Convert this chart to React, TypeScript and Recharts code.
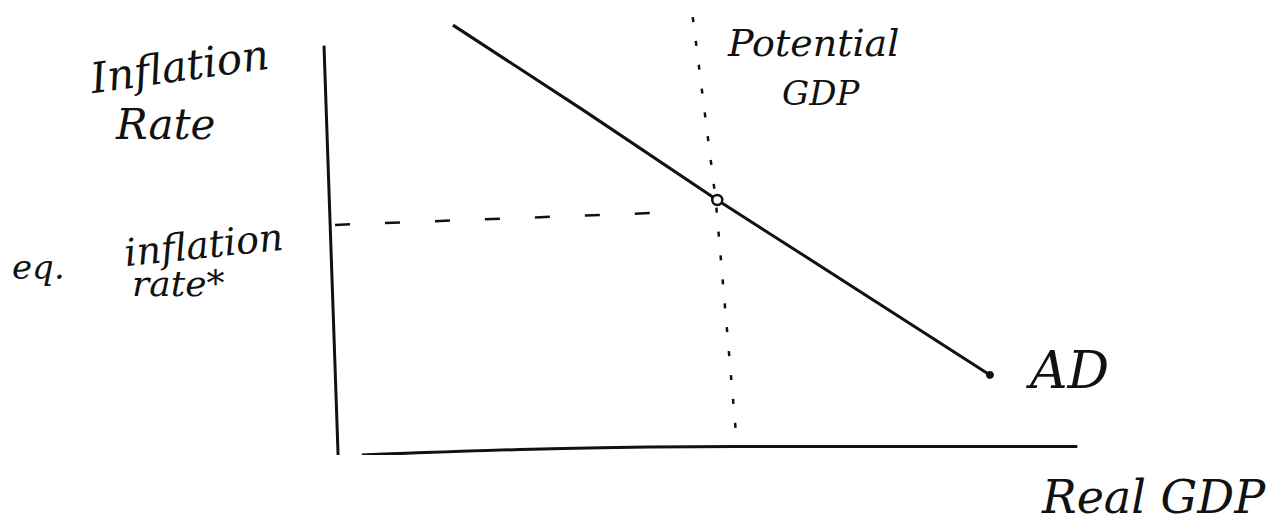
import React from "react";
import { LineChart, Line, XAxis, YAxis, ReferenceDot } from "recharts";

// Aggregate demand curve (x = real GDP, y = inflation rate)
const adCurve = [
  { x: 17.1, y: 96.6 },
  { x: 34.1, y: 77.5 },
  { x: 51.6, y: 57.3 },
  { x: 62.4, y: 45.4 },
  { x: 87.2, y: 18 },
];

// Potential GDP, drawn as a near-vertical dotted line
const potentialGdp = [
  { x: 48.4, y: 98.4 },
  { x: 51.4, y: 57.3 },
  { x: 54.2, y: 1.8 },
];

// Equilibrium inflation guide
const eqInflation = [
  { x: 1.7, y: 51.7 },
  { x: 43.5, y: 54.4 },
];

// Hand-drawn axes
const yAxisLine = [
  { x: 0.26, y: 92 },
  { x: 2.1, y: 0 },
];
const xAxisLine = [
  { x: 5.2, y: 0 },
  { x: 30, y: 1.4 },
  { x: 54.2, y: 1.9 },
  { x: 98.6, y: 1.9 },
];

const equilibrium = { x: 51.6, y: 57.3 };
const adEnd = { x: 87.2, y: 18 };

const ink = "#111";
const hand = "'DejaVu Serif', serif";

const labelStyle = (left: number, top: number, size: number): React.CSSProperties => ({
  position: "absolute",
  left,
  top,
  fontFamily: hand,
  fontStyle: "italic",
  fontSize: size,
  color: ink,
  lineHeight: 1,
  whiteSpace: "nowrap",
});

export default function App() {
  return (
    <div style={{ position: "absolute", left: 0, top: 0, width: 1278, height: 531, background: "#fff" }}>
      <LineChart
        width={1278}
        height={531}
        margin={{ top: 10, right: 190, bottom: 76, left: 322 }}
      >
        <XAxis type="number" dataKey="x" domain={[0, 100]} hide allowDataOverflow />
        <YAxis type="number" dataKey="y" domain={[0, 100]} hide allowDataOverflow />
        <Line data={yAxisLine} dataKey="y" stroke={ink} strokeWidth={3} dot={false} isAnimationActive={false} />
        <Line data={xAxisLine} dataKey="y" stroke={ink} strokeWidth={3} dot={false} type="monotone" isAnimationActive={false} />
        <Line
          data={eqInflation}
          dataKey="y"
          stroke={ink}
          strokeWidth={2.5}
          strokeDasharray="15 35"
          dot={false}
          isAnimationActive={false}
        />
        <Line
          data={potentialGdp}
          dataKey="y"
          stroke={ink}
          strokeWidth={2.5}
          strokeDasharray="5 19"
          dot={false}
          isAnimationActive={false}
        />
        <Line data={adCurve} dataKey="y" stroke={ink} strokeWidth={3} dot={false} isAnimationActive={false} />
        <ReferenceDot x={equilibrium.x} y={equilibrium.y} r={5} fill="#fff" stroke={ink} strokeWidth={2.5} />
        <ReferenceDot x={adEnd.x} y={adEnd.y} r={3.5} fill={ink} stroke={ink} />
      </LineChart>

      <div style={{ ...labelStyle(90, 46, 42), transform: "rotate(-8deg)" }}>Inflation</div>
      <div style={labelStyle(116, 104, 42)}>Rate</div>

      <div style={labelStyle(12, 250, 34)}>eq.</div>
      <div style={{ ...labelStyle(124, 226, 38), transform: "rotate(-6deg)" }}>inflation</div>
      <div style={labelStyle(132, 266, 36)}>rate*</div>

      <div style={labelStyle(728, 24, 38)}>Potential</div>
      <div style={labelStyle(782, 76, 34)}>GDP</div>

      <div style={labelStyle(1030, 344, 52)}>AD</div>
      <div style={labelStyle(1042, 474, 46)}>Real GDP</div>
    </div>
  );
}
